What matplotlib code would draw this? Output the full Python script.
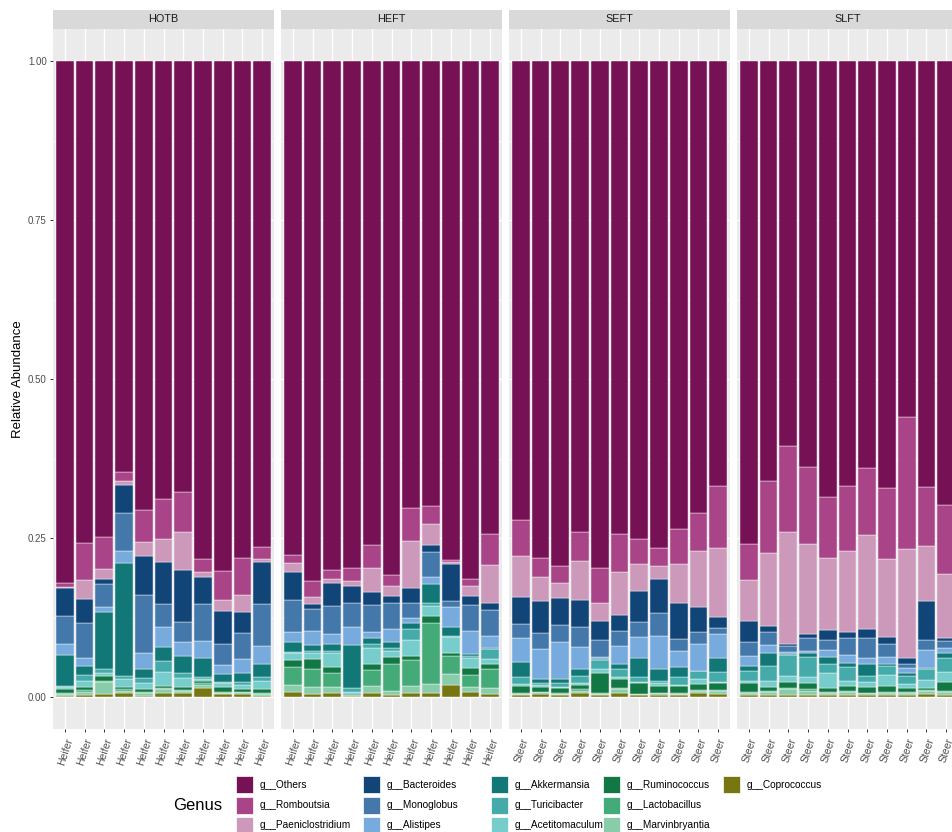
import matplotlib
matplotlib.use("Agg")
import matplotlib.pyplot as plt
from matplotlib.patches import Rectangle
import numpy as np

plt.rcParams['font.family'] = ['Liberation Sans', 'DejaVu Sans']

# ---------------- data ----------------
panels = ['HOTB', 'HEFT', 'SEFT', 'SLFT']
panel_sample_label = ['Heifer', 'Heifer', 'Steer', 'Steer']
n_samples = 11

genera = ['g__Others', 'g__Romboutsia', 'g__Paeniclostridium', 'g__Bacteroides',
          'g__Monoglobus', 'g__Alistipes', 'g__Akkermansia', 'g__Turicibacter',
          'g__Acetitomaculum', 'g__Ruminococcus', 'g__Lactobacillus',
          'g__Marvinbryantia', 'g__Coprococcus']
colors = ['#771155', '#AA4488', '#CC99BB', '#114477', '#4477AA', '#77AADD',
          '#117777', '#44AAAA', '#77CCCC', '#117744', '#44AA77', '#88CCAA',
          '#777711']

# values: HOTB(11), HEFT(11), SEFT(11), SLFT(11)
others = [.821, .758, .749, .646, .706, .689, .677, .7835, .8015, .782, .7643,
          .7767, .817, .8003, .7976, .761, .8082, .7022, .6997, .7846, .8145, .7442,
          .7217, .781, .794, .740, .7977, .7437, .7516, .7652, .7364, .7112, .6682,
          .759, .6604, .6053, .6389, .685, .6682, .6405, .6709, .5603, .6693, .6981]
romboutsia = [.006, .058, .050, .015, .051, .063, .0635, .0195, .046, .058, .018,
              .0133, .0263, .0142, .020, .0356, .0173, .052, .0288, .0026, .011, .0483,
              .0561, .0298, .0273, .0462, .055, .0603, .0398, .0283, .0545, .0592, .097,
              .057, .1127, .1358, .1205, .0959, .1022, .1048, .1121, .2064, .0928, .109]
paeniclostridium = [.001, .030, .015, .006, .022, .035, .060, .008, .0175, .026, .006,
                    .0133, .0097, .0055, .0074, .0378, .0151, .0739, .0325, .0038, .0152, .0592,
                    .0644, .0382, .0225, .0613, .0273, .0671, .0419, .0215, .0618, .0876, .1095,
                    .064, .1153, .1756, .1416, .1138, .1279, .1483, .1232, .1725, .0864, .1007]
bacteroides = [.045, .038, .009, .044, .060, .067, .081, .0434, .052, .034, .065,
               .044, .009, .0364, .0267, .0209, .011, .0236, .0105, .058, .0146, .0115,
               .043, .051, .043, .0419, .0304, .0246, .0483, .0524, .0566, .0393, .0163,
               .034, .0099, .0031, .0057, .0157, .0095, .0142, .0105, .0094, .0619, .0036]
monoglobus = [.044, .054, .036, .060, .092, .036, .032, .057, .033, .041, .066,
              .050, .034, .0446, .0377, .043, .042, .0241, .0405, .009, .0409, .0409,
              .0215, .0245, .0272, .0315, .0262, .0236, .0235, .0362, .0184, .0194, .0105,
              .021, .0199, .0089, .021, .0157, .0262, .0314, .0199, .0063, .0157, .011]
alistipes = [.017, .013, .008, .019, .025, .031, .0215, .0266, .014, .021, .0287,
             .0157, .022, .0162, .0288, .0095, .0204, .0073, .0103, .0314, .0362, .0183,
             .0388, .0472, .0577, .0356, .0042, .0288, .0341, .0529, .0257, .0419, .0377,
             .0163, .0121, .0037, .0036, .0105, .012, .0094, .0115, .0079, .0288, .0089]
akkermansia = [.049, .014, .0895, .177, .014, .0224, .027, .031, .012, .014, .021,
               .0157, .009, .0108, .0682, .0094, .0095, .0105, .0294, .0146, .0026, .0026,
               .0225, .0058, .0068, .0105, .001, .0079, .0299, .0178, .0146, .0005, .022,
               .0073, .021, .0016, .0063, .012, .0063, .0179, .0026, .0042, .0005, .0079]
turicibacter = [.002, .010, .0055, .005, .0085, .0166, .008, .003, .0025, .005, .0053,
                .0017, .004, .0033, .0052, .0063, .0037, .0168, .0053, .001, .0042, .0158,
                .0116, .0035, .0053, .0115, .0147, .012, .0068, .0042, .0131, .0126, .0147,
                .0162, .023, .033, .0304, .0131, .0225, .0104, .0147, .0126, .0179, .022]
acetitomaculum = [.003, .009, .005, .013, .0095, .0227, .015, .003, .0065, .007, .0137,
                  .0116, .010, .021, .0037, .0251, .0104, .0251, .0156, .0253, .0158, .0078,
                  .0031, .004, .0026, .0026, .0052, .0037, .0016, .0042, .0016, .0079, .0026,
                  .0027, .0105, .0089, .0095, .0247, .0079, .0079, .0173, .0068, .012, .0147]
ruminococcus = [.006, .005, .008, .003, .004, .0037, .004, .0034, .0066, .0036, .0062,
                .0103, .0155, .0105, .0017, .0089, .0104, .0063, .0105, .0047, .0104, .0074,
                .0105, .0066, .0078, .0069, .0325, .0147, .0175, .0105, .0115, .0094, .0105,
                .0152, .0052, .0105, .0105, .0063, .0073, .0084, .0094, .0063, .0037, .0141]
lactobacillus = [.001, .003, .001, .002, .002, .0016, .001, .002, .0014, .0012, .0013,
                 .0287, .028, .022, .001, .0252, .042, .0404, .0966, .0294, .0194, .0304,
                 .0013, .0012, .0008, .0022, .0008, .0008, .0005, .001, .001, .0012, .0013,
                 .0013, .0015, .001, .002, .0012, .0015, .0012, .0013, .0012, .0013, .0015]
marvinbryantia = [.003, .005, .019, .004, .004, .005, .003, .006, .003, .0025, .0025,
                  .0117, .0105, .0094, .001, .0115, .007, .012, .014, .0167, .0068, .0094,
                  .0025, .003, .002, .004, .002, .007, .0015, .0028, .0022, .004, .005,
                  .003, .0055, .0096, .007, .0035, .0055, .003, .004, .0035, .0055, .0055]
coprococcus = [.002, .003, .005, .006, .002, .007, .007, .0136, .004, .0047, .002,
               .0073, .005, .0058, .001, .0058, .003, .0058, .0063, .0189, .0084, .0042,
               .003, .0042, .003, .0058, .003, .0058, .003, .003, .0026, .0058, .0047,
               .003, .003, .003, .003, .0026, .003, .0026, .0026, .0026, .0042, .003]

series = [others, romboutsia, paeniclostridium, bacteroides, monoglobus, alistipes,
          akkermansia, turicibacter, acetitomaculum, ruminococcus, lactobacillus,
          marvinbryantia, coprococcus]
y_ticks = [0.00, 0.25, 0.50, 0.75, 1.00]
y_tick_labels = ['0.00', '0.25', '0.50', '0.75', '1.00']

# ---------------- layout ----------------
W, H = 952, 832
fig = plt.figure(figsize=(W / 100, H / 100), dpi=100)
fig.patch.set_facecolor('white')

panel_left = [53, 281, 509, 737]
panel_w = 221
y_top_px, y_bot_px = 29.2, 728.8
strip_h = 19.7
panel_h = y_bot_px - y_top_px

for pi, (pname, left) in enumerate(zip(panels, panel_left)):
    ax = fig.add_axes([left / W, (H - y_bot_px) / H, panel_w / W, panel_h / H])
    ax.set_facecolor('#EBEBEB')
    x = np.arange(1, n_samples + 1)
    bottom = np.zeros(n_samples)
    # stack from bottom (last genus) up to Others
    for gi in range(len(genera) - 1, -1, -1):
        vals = np.array(series[gi][pi * n_samples:(pi + 1) * n_samples])
        ax.bar(x, vals, width=0.9, bottom=bottom, color=colors[gi],
               edgecolor='white', linewidth=0.3, zorder=3)
        bottom += vals
    ax.set_xlim(0.4, n_samples + 0.6)
    ax.set_ylim(-0.05, 1.05)
    ax.set_xticks(x)
    ax.set_xticklabels([panel_sample_label[pi]] * n_samples, rotation=72,
                       ha='right', va='top', rotation_mode='anchor',
                       fontsize=7.5, color='#4D4D4D')
    ax.set_yticks(y_ticks)
    ax.set_yticks([0.125, 0.375, 0.625, 0.875], minor=True)
    ax.set_axisbelow(True)
    ax.grid(True, which='major', color='white', linewidth=1.0)
    ax.grid(True, which='minor', axis='y', color='white', linewidth=0.5)
    ax.tick_params(axis='x', length=2.5, width=0.7, color='#333333', pad=3)
    ax.tick_params(axis='y', which='minor', length=0)
    if pi == 0:
        ax.set_yticklabels(y_tick_labels, fontsize=7, color='#4D4D4D')
        ax.tick_params(axis='y', length=2.5, width=0.7, color='#333333', pad=2)
        ax.set_ylabel('Relative Abundance', fontsize=9.5, color='black', labelpad=3)
    else:
        ax.set_yticklabels([])
        ax.tick_params(axis='y', length=0)
    for s in ax.spines.values():
        s.set_visible(False)
    # facet strip
    ax.add_patch(Rectangle((0, 1), 1, strip_h / panel_h, transform=ax.transAxes,
                           clip_on=False, facecolor='#D9D9D9', edgecolor='none'))
    ax.text(0.5, 1 + strip_h / panel_h / 2, pname, transform=ax.transAxes,
            ha='center', va='center', fontsize=7.8, color='#1A1A1A')

# ---------------- legend (manual, column-major, 3 rows) ----------------
def fx(px):
    return px / W

def fy(py):
    return 1 - py / H

fig.text(fx(198), fy(806), 'Genus', ha='center', va='center', fontsize=12,
         color='black')
col_x = [236, 363, 491, 603, 723]
row_top = [776, 796.5, 817]
key = 17
for gi, (g, c) in enumerate(zip(genera, colors)):
    col, row = gi // 3, gi % 3
    kx, ky = col_x[col], row_top[row]
    fig.add_artist(Rectangle((fx(kx), fy(ky + key)), key / W, key / H,
                             transform=fig.transFigure, facecolor=c,
                             edgecolor='white', linewidth=0.5))
    fig.text(fx(kx + 24), fy(ky + key / 2), g, ha='left', va='center',
             fontsize=7.3, color='black')

fig.savefig('out.png', dpi=100)
